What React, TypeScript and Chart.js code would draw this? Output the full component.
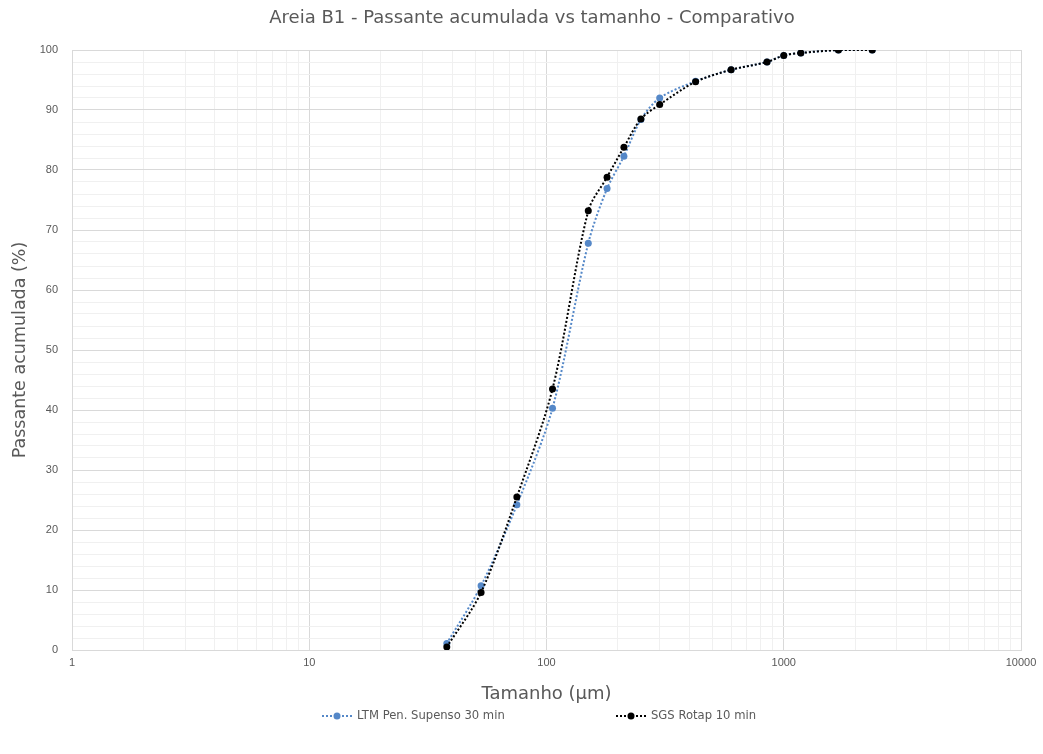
import React, { useEffect, useRef } from "react";
import { Chart, registerables } from "chart.js";

Chart.register(...registerables);

const sizes = [38, 53, 75, 106, 150, 180, 212, 250, 300, 425, 600, 850, 1000, 1180, 1700, 2360];
const ltm = [1.1, 10.7, 24.2, 40.3, 67.8, 76.9, 82.3, 88.4, 92.0, 94.8, 96.7, 98.0, 99.1, 99.5, 100, 100];
const sgs = [0.5, 9.6, 25.5, 43.5, 73.2, 78.8, 83.8, 88.5, 90.9, 94.7, 96.7, 98.0, 99.1, 99.5, 100, 100];
const decades = [1, 10, 100, 1000];
const xMax = 10000;

const title = "Areia B1 - Passante acumulada vs tamanho - Comparativo";
const xTitle = "Tamanho (µm)";
const yTitle = "Passante acumulada (%)";
const labelLtm = "LTM Pen. Supenso 30 min";
const labelSgs = "SGS Rotap 10 min";

const BLUE = "#5588C8";
const BLACK = "#000000";
const GREY = "#595959";
const TFONT = "'DejaVu Sans'";

const TITLE_X = 532;
const TITLE_Y = 18;
const LEGEND_Y = 716;
const LEGEND_X = [322, 616];

function drawIcon(g: CanvasRenderingContext2D, x: number, y: number, color: string) {
  g.save();
  g.strokeStyle = color;
  g.lineWidth = 2;
  g.setLineDash([2, 2]);
  g.beginPath();
  g.moveTo(x, y);
  g.lineTo(x + 30, y);
  g.stroke();
  g.setLineDash([]);
  g.fillStyle = color;
  g.beginPath();
  g.arc(x + 15, y, 3.5, 0, Math.PI * 2);
  g.fill();
  g.restore();
}

const overlay = {
  id: "overlay",
  afterDraw(chart: any) {
    const g: CanvasRenderingContext2D = chart.ctx;
    g.save();
    g.fillStyle = GREY;
    g.textBaseline = "middle";
    g.textAlign = "center";
    g.font = `18px ${TFONT}`;
    g.fillText(title, TITLE_X, TITLE_Y);
    g.textAlign = "left";
    g.font = `11.6px ${TFONT}`;
    chart.data.datasets.forEach((ds: any, i: number) => {
      const x = LEGEND_X[i];
      drawIcon(g, x, LEGEND_Y, ds.borderColor);
      g.fillStyle = GREY;
      g.fillText(ds.label, x + 35, LEGEND_Y);
    });
    g.restore();
  },
};

export default function App() {
  const ref = useRef<HTMLCanvasElement | null>(null);
  useEffect(() => {
    if (!ref.current) return;
    const xTicks: number[] = [];
    decades.forEach((d) => {
      for (let m = 1; m <= 9; m++) xTicks.push(d * m);
    });
    xTicks.push(xMax);
    const chart = new Chart(ref.current, {
      type: "line",
      data: {
        datasets: [
          {
            label: labelLtm,
            data: sizes.map((s, i) => ({ x: s, y: ltm[i] })),
            borderColor: BLUE,
            backgroundColor: BLUE,
            borderWidth: 2,
            borderDash: [2, 2],
            pointRadius: 3.5,
            pointBorderWidth: 0,
            tension: 0.3,
            order: 1,
            pointStyle: "circle",
          },
          {
            label: labelSgs,
            data: sizes.map((s, i) => ({ x: s, y: sgs[i] })),
            borderColor: BLACK,
            backgroundColor: BLACK,
            borderWidth: 2,
            borderDash: [2, 2],
            pointRadius: 3.5,
            pointBorderWidth: 0,
            tension: 0.3,
            order: 0,
            pointStyle: "circle",
          },
        ],
      },
      options: {
        animation: false,
        responsive: true,
        maintainAspectRatio: false,
        layout: { padding: { left: 0, right: 22, top: 50, bottom: 49 } },
        plugins: {
          title: { display: false },
          legend: { display: false },
          tooltip: { enabled: false },
        },
        scales: {
          x: {
            type: "logarithmic",
            min: 1,
            max: xMax,
            afterBuildTicks: (scale: any) => {
              scale.ticks = xTicks.map((v) => ({ value: v }));
            },
            afterFit: (scale: any) => {
              scale.height = 55;
            },
            ticks: {
              autoSkip: false,
              maxRotation: 0,
              color: GREY,
              font: { family: "Liberation Sans", size: 11 },
              padding: 6,
              callback: (v: any) => {
                const n = Number(v);
                const l = Math.log10(n);
                return Math.abs(l - Math.round(l)) < 1e-9 ? String(n) : "";
              },
            },
            grid: {
              drawTicks: false,
              color: (ctx: any) => {
                const n = ctx.tick ? ctx.tick.value : 1;
                const l = Math.log10(n);
                return Math.abs(l - Math.round(l)) < 1e-9 ? "#d9d9d9" : "#f0f0f0";
              },
            },
            border: { color: "#d9d9d9" },
            title: {
              display: true,
              text: xTitle,
              color: GREY,
              font: { family: TFONT, size: 18 },
              padding: { top: 10, bottom: 0 },
            },
          },
          y: {
            min: 0,
            max: 100,
            afterFit: (scale: any) => {
              scale.width = 72;
            },
            ticks: {
              stepSize: 2,
              autoSkip: false,
              color: GREY,
              font: { family: "Liberation Sans", size: 11 },
              padding: 14,
              callback: (v: any) => (Number(v) % 10 === 0 ? String(v) : ""),
            },
            grid: {
              drawTicks: false,
              color: (ctx: any) => {
                const n = ctx.tick ? ctx.tick.value : 0;
                return n % 10 === 0 ? "#d9d9d9" : "#f0f0f0";
              },
            },
            border: { color: "#d9d9d9" },
            title: {
              display: true,
              text: yTitle,
              color: GREY,
              font: { family: TFONT, size: 17.5 },
              padding: { top: 10, bottom: 0 },
            },
          },
        },
      },
      plugins: [overlay],
    } as any);
    return () => chart.destroy();
  }, []);
  return (
    <div style={{ position: "absolute", left: 0, top: 0, width: 1043, height: 754, background: "#fff" }}>
      <canvas ref={ref} />
    </div>
  );
}
